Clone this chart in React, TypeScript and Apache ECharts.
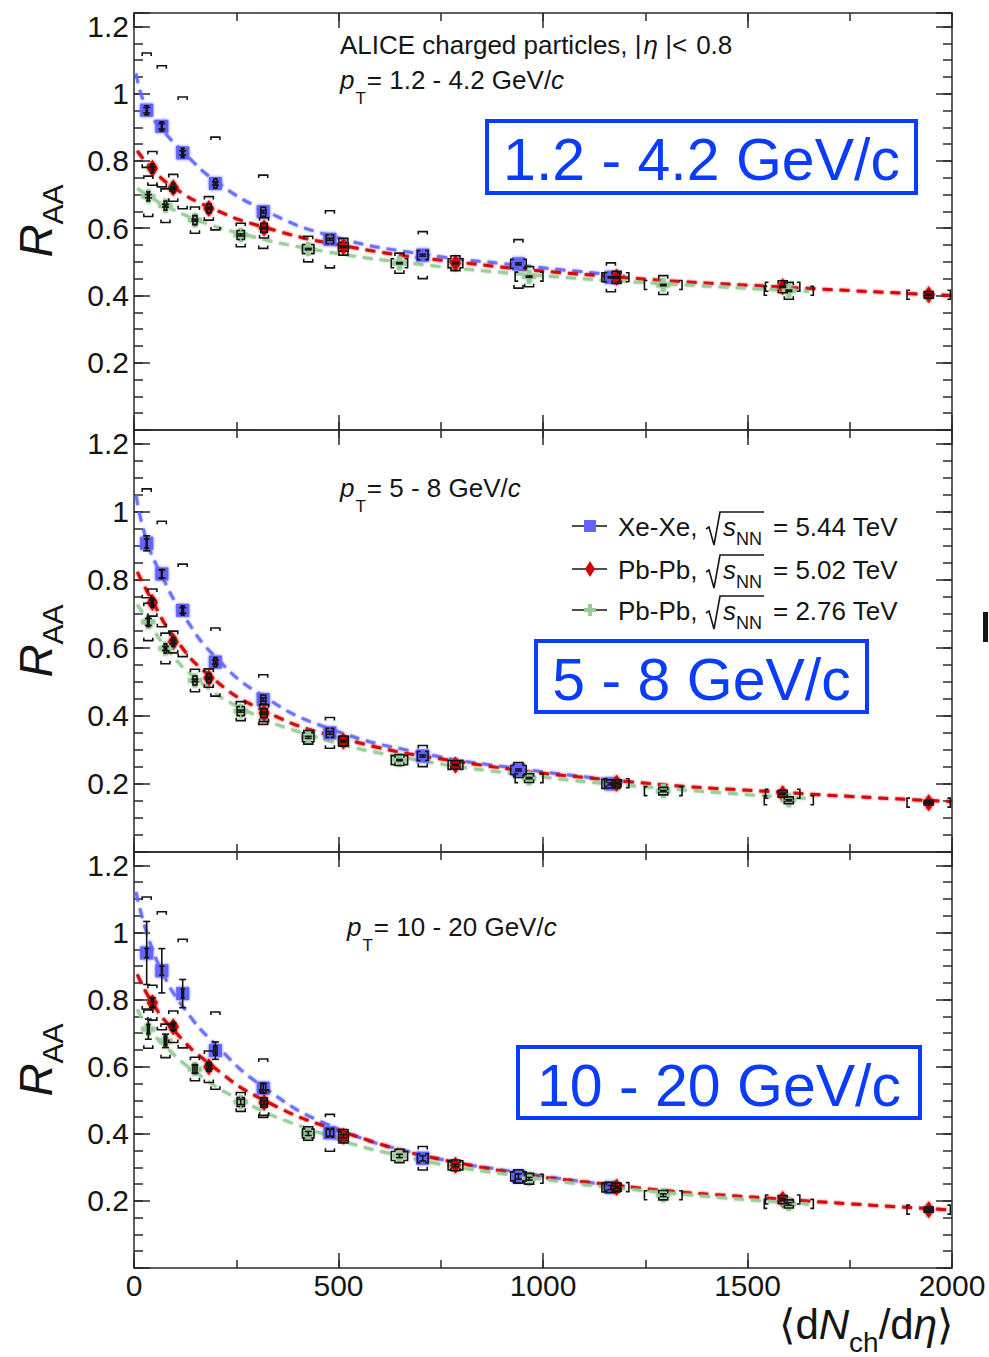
import React, { useEffect, useRef } from 'react';
import * as echarts from 'echarts';

const FONT = '"Liberation Sans", Arial, Helvetica, sans-serif';

// Mean charged-particle multiplicity <dNch/deta> per centrality class
const XE_X = [31, 68, 119, 199, 316, 479, 706, 940, 1166];
const PB5_X = [45, 96, 183, 318, 512, 786, 1180, 1586, 1943];
const PB2_X = [35, 77, 149, 261, 426, 649, 966, 1294, 1601];
// Systematic uncertainty on <dNch/deta> (half-width)
const XE_XSYS = [1, 1, 2, 4, 6, 9, 13, 19, 22];
const PB5_XSYS = [2, 3, 5, 8, 12, 18, 30, 42, 53];
const PB2_XSYS = [2, 3, 5, 9, 14, 20, 34, 46, 60];

// pT = 1.2 - 4.2 GeV/c
const XE_R1 = [0.951, 0.903, 0.824, 0.733, 0.649, 0.567, 0.52, 0.494, 0.454];
const XE_SYS1 = [0.17, 0.18, 0.166, 0.138, 0.109, 0.085, 0.07, 0.072, 0.043];
const XE_STAT1 = [0.008, 0.008, 0.006, 0.005, 0.004, 0.003, 0.003, 0.003, 0.002];
const PB5_R1 = [0.778, 0.72, 0.659, 0.601, 0.545, 0.496, 0.454, 0.426, 0.402];
const PB5_SYS1 = [0.05, 0.04, 0.035, 0.03, 0.025, 0.022, 0.018, 0.018, 0.01];
const PB5_STAT1 = [0.004, 0.003, 0.003, 0.002, 0.002, 0.002, 0.002, 0.002, 0.002];
const PB2_R1 = [0.695, 0.667, 0.624, 0.58, 0.538, 0.496, 0.456, 0.431, 0.414];
const PB2_SYS1 = [0.06, 0.05, 0.039, 0.035, 0.038, 0.03, 0.03, 0.028, 0.025];
const PB2_STAT1 = [0.005, 0.004, 0.003, 0.003, 0.002, 0.002, 0.002, 0.002, 0.002];

// pT = 5 - 8 GeV/c
const XE_R2 = [0.907, 0.817, 0.71, 0.558, 0.448, 0.35, 0.282, 0.241, 0.2];
const XE_SYS2 = [0.16, 0.155, 0.136, 0.1, 0.073, 0.045, 0.031, 0.022, 0.012];
const XE_STAT2 = [0.022, 0.012, 0.008, 0.006, 0.005, 0.004, 0.003, 0.003, 0.003];
const PB5_R2 = [0.733, 0.617, 0.511, 0.408, 0.326, 0.256, 0.202, 0.171, 0.145];
const PB5_SYS2 = [0.04, 0.032, 0.027, 0.025, 0.015, 0.012, 0.01, 0.01, 0.007];
const PB5_STAT2 = [0.008, 0.005, 0.004, 0.003, 0.003, 0.002, 0.002, 0.002, 0.002];
const PB2_R2 = [0.676, 0.598, 0.504, 0.414, 0.337, 0.27, 0.217, 0.179, 0.152];
const PB2_SYS2 = [0.055, 0.045, 0.033, 0.028, 0.02, 0.016, 0.013, 0.011, 0.01];
const PB2_STAT2 = [0.01, 0.006, 0.004, 0.003, 0.003, 0.002, 0.002, 0.002, 0.002];

// pT = 10 - 20 GeV/c
const XE_R3 = [0.939, 0.886, 0.818, 0.648, 0.536, 0.403, 0.327, 0.273, 0.24];
const XE_SYS3 = [0.167, 0.176, 0.162, 0.115, 0.087, 0.055, 0.035, 0.02, 0.015];
const XE_STAT3 = [0.094, 0.066, 0.042, 0.026, 0.015, 0.01, 0.008, 0.008, 0.006];
const PB5_R3 = [0.791, 0.719, 0.6, 0.493, 0.393, 0.306, 0.241, 0.204, 0.174];
const PB5_SYS3 = [0.052, 0.047, 0.047, 0.038, 0.02, 0.016, 0.012, 0.012, 0.008];
const PB5_STAT3 = [0.015, 0.01, 0.008, 0.006, 0.005, 0.004, 0.003, 0.003, 0.003];
const PB2_R3 = [0.712, 0.677, 0.593, 0.495, 0.401, 0.334, 0.266, 0.217, 0.191];
const PB2_SYS3 = [0.057, 0.05, 0.035, 0.028, 0.02, 0.02, 0.016, 0.014, 0.012];
const PB2_STAT3 = [0.03, 0.02, 0.012, 0.008, 0.006, 0.005, 0.004, 0.004, 0.004];

// Dashed fit curves, sampled along <dNch/deta>
const XE_FIT_X = [5, 31, 68, 119, 200, 316, 479, 706, 940, 1200];
const PB5_FIT_X = [8, 45, 96, 183, 318, 512, 786, 1180, 1586, 2000];
const PB2_FIT_X = [8, 35, 77, 149, 261, 426, 649, 966, 1294, 1650];
const XE_FIT1 = [1.06, 0.955, 0.895, 0.828, 0.74, 0.655, 0.578, 0.523, 0.49, 0.458];
const PB5_FIT1 = [0.83, 0.775, 0.722, 0.663, 0.603, 0.548, 0.5, 0.455, 0.425, 0.4];
const PB2_FIT1 = [0.718, 0.697, 0.667, 0.627, 0.584, 0.54, 0.5, 0.462, 0.435, 0.412];
const XE_FIT2 = [1.048, 0.915, 0.812, 0.7, 0.572, 0.458, 0.362, 0.29, 0.245, 0.208];
const PB5_FIT2 = [0.823, 0.737, 0.635, 0.52, 0.415, 0.333, 0.267, 0.21, 0.175, 0.148];
const PB2_FIT2 = [0.727, 0.677, 0.603, 0.512, 0.423, 0.345, 0.28, 0.225, 0.187, 0.157];
const XE_FIT3 = [1.121, 1.0, 0.885, 0.78, 0.665, 0.54, 0.425, 0.337, 0.285, 0.242];
const PB5_FIT3 = [0.875, 0.79, 0.71, 0.61, 0.5, 0.405, 0.315, 0.246, 0.205, 0.173];
const PB2_FIT3 = [0.771, 0.715, 0.66, 0.585, 0.5, 0.415, 0.335, 0.27, 0.225, 0.19];

// Texts
const PT_RANGES = ['1.2 - 4.2', '5 - 8', '10 - 20'];
const BOX_LABELS = ['1.2 - 4.2 GeV/c', '5 - 8 GeV/c', '10 - 20 GeV/c'];
const LEGEND_SYSTEMS = ['Xe-Xe,', 'Pb-Pb,', 'Pb-Pb,'];
const LEGEND_ENERGIES = ['= 5.44 TeV', '= 5.02 TeV', '= 2.76 TeV'];
const X_TICKS_MAJOR = 500;
const X_TICKS_MINOR = 250;
const Y_TICKS_MAJOR = 0.2;
const Y_TICKS_MINOR = 0.05;

const AX = '#2a2a2a';
const BOX_BLUE = '#0a3cff';
const CROSS = 'path://M4,0H8V4H12V8H8V12H4V8H0V4H4Z';

const SYSTEMS = [
  { x: XE_X, xsys: XE_XSYS, fitX: XE_FIT_X, color: '#6464ff', line: 'rgba(96,104,255,0.85)', symbol: 'rect', size: 13 as any },
  { x: PB5_X, xsys: PB5_XSYS, fitX: PB5_FIT_X, color: '#d20000', line: 'rgba(212,0,0,0.9)', symbol: 'diamond', size: [11, 17] as any },
  { x: PB2_X, xsys: PB2_XSYS, fitX: PB2_FIT_X, color: '#98cc98', line: 'rgba(150,204,150,0.9)', symbol: CROSS, size: 14 as any },
];

const PANELS = [
  { r: [XE_R1, PB5_R1, PB2_R1], sys: [XE_SYS1, PB5_SYS1, PB2_SYS1], stat: [XE_STAT1, PB5_STAT1, PB2_STAT1], fit: [XE_FIT1, PB5_FIT1, PB2_FIT1] },
  { r: [XE_R2, PB5_R2, PB2_R2], sys: [XE_SYS2, PB5_SYS2, PB2_SYS2], stat: [XE_STAT2, PB5_STAT2, PB2_STAT2], fit: [XE_FIT2, PB5_FIT2, PB2_FIT2] },
  { r: [XE_R3, PB5_R3, PB2_R3], sys: [XE_SYS3, PB5_SYS3, PB2_SYS3], stat: [XE_STAT3, PB5_STAT3, PB2_STAT3], fit: [XE_FIT3, PB5_FIT3, PB2_FIT3] },
];

const GRIDS = [
  { left: 134, right: 37, top: 13, height: 417 },
  { left: 134, right: 37, top: 430, height: 422 },
  { left: 134, right: 37, top: 852, height: 416 },
];

type Frag = { t: string; size: number; it?: boolean; dy?: number; dx?: number };

const measureCtx = document.createElement('canvas').getContext('2d') as CanvasRenderingContext2D;
const fontOf = (f: Frag) => `${f.it ? 'italic ' : ''}${f.size}px ${FONT}`;
const widthOf = (f: Frag) => {
  measureCtx.font = fontOf(f);
  return measureCtx.measureText(f.t).width;
};

// Lays text fragments out on a common baseline (sub/superscripts via dy)
function textRun(x0: number, base: number, frags: Frag[], fill = '#151515') {
  const els: any[] = [];
  let x = x0;
  for (const f of frags) {
    x += f.dx ?? 0;
    els.push({
      type: 'text',
      x,
      y: base + (f.dy ?? 0) - 0.31 * f.size,
      silent: true,
      style: {
        text: f.t,
        fontSize: f.size,
        fontFamily: FONT,
        fontStyle: f.it ? 'italic' : 'normal',
        fill,
        align: 'left',
        verticalAlign: 'middle',
      },
    });
    x += widthOf(f);
  }
  return { els, end: x };
}
const runWidth = (frags: Frag[]) => frags.reduce((s, f) => s + (f.dx ?? 0) + widthOf(f), 0);

// Systematic uncertainties as bracket ends, statistical ones as capped bars
function renderErrors(_params: any, api: any) {
  const x = api.value(0);
  const y = api.value(1);
  const sy = api.value(2);
  const sx = api.value(3);
  const st = api.value(4);
  const [cx, cy] = api.coord([x, y]);
  const yt = api.coord([x, y + sy])[1];
  const yb = api.coord([x, y - sy])[1];
  const xl = api.coord([x - sx, y])[0];
  const xr = api.coord([x + sx, y])[0];
  const s1 = api.coord([x, y + st])[1];
  const s2 = api.coord([x, y - st])[1];
  const w = 4.5;
  const leg = 3;
  const h = 4.5;
  const cap = 3.5;
  const style = { stroke: '#141414', lineWidth: 1.6, fill: 'none' };
  const pl = (pts: number[][]) => ({ type: 'polyline', shape: { points: pts }, style });
  const ln = (x1: number, y1: number, x2: number, y2: number) => ({ type: 'line', shape: { x1, y1, x2, y2 }, style });
  return {
    type: 'group',
    children: [
      pl([[cx - w, yt + leg], [cx - w, yt], [cx + w, yt], [cx + w, yt + leg]]),
      pl([[cx - w, yb - leg], [cx - w, yb], [cx + w, yb], [cx + w, yb - leg]]),
      pl([[xl + leg, cy - h], [xl, cy - h], [xl, cy + h], [xl + leg, cy + h]]),
      pl([[xr - leg, cy - h], [xr, cy - h], [xr, cy + h], [xr - leg, cy + h]]),
      ln(cx, s1, cx, s2),
      ln(cx - cap, s1, cx + cap, s1),
      ln(cx - cap, s2, cx + cap, s2),
    ],
  };
}

function buildOption() {
  const xAxis: any[] = [];
  const yAxis: any[] = [];
  const series: any[] = [];
  const lineStyle = { color: AX, width: 1.5 };

  PANELS.forEach((panel, p) => {
    const xb = { gridIndex: p, type: 'value', min: 0, max: 2000, splitLine: { show: false } };
    xAxis.push(
      {
        ...xb, position: 'bottom', interval: X_TICKS_MAJOR,
        axisLine: { show: true, onZero: false, lineStyle },
        axisTick: { inside: true, length: 15, lineStyle },
        axisLabel: { show: p === 2, formatter: (v: number) => String(v), fontSize: 30, fontFamily: FONT, color: '#151515', margin: 2 },
      },
      {
        ...xb, position: 'bottom', interval: X_TICKS_MINOR,
        axisLine: { show: false, onZero: false },
        axisTick: { inside: true, length: 8, lineStyle },
        axisLabel: { show: false },
      },
      {
        ...xb, position: 'top', interval: X_TICKS_MAJOR,
        axisLine: { show: true, onZero: false, lineStyle },
        axisTick: { inside: true, length: 15, lineStyle },
        axisLabel: { show: false },
      },
      {
        ...xb, position: 'top', interval: X_TICKS_MINOR,
        axisLine: { show: false, onZero: false },
        axisTick: { inside: true, length: 8, lineStyle },
        axisLabel: { show: false },
      },
    );
    const yb = { gridIndex: p, type: 'value', min: 0, max: 1.24, splitLine: { show: false } };
    const fmt = (v: number) => {
      const k = v / Y_TICKS_MAJOR;
      if (v < 0.1 || v > 1.21 || Math.abs(k - Math.round(k)) > 1e-6) return '';
      return String(Math.round(v * 10) / 10);
    };
    yAxis.push(
      {
        ...yb, position: 'left', interval: Y_TICKS_MAJOR,
        axisLine: { show: true, onZero: false, lineStyle },
        axisTick: { inside: true, length: 16, lineStyle },
        axisLabel: { show: true, formatter: fmt, fontSize: 30, fontFamily: FONT, color: '#151515', margin: 5 },
      },
      {
        ...yb, position: 'left', interval: Y_TICKS_MINOR,
        axisLine: { show: false, onZero: false },
        axisTick: { inside: true, length: 9, lineStyle },
        axisLabel: { show: false },
      },
      {
        ...yb, position: 'right', interval: Y_TICKS_MAJOR,
        axisLine: { show: true, onZero: false, lineStyle },
        axisTick: { inside: true, length: 16, lineStyle },
        axisLabel: { show: false },
      },
      {
        ...yb, position: 'right', interval: Y_TICKS_MINOR,
        axisLine: { show: false, onZero: false },
        axisTick: { inside: true, length: 9, lineStyle },
        axisLabel: { show: false },
      },
    );

    SYSTEMS.forEach((sysDef, s) => {
      const ax = { xAxisIndex: 4 * p, yAxisIndex: 4 * p };
      series.push({
        type: 'line',
        ...ax,
        data: sysDef.fitX.map((x, i) => [x, panel.fit[s][i]]),
        smooth: 0.5,
        showSymbol: false,
        symbol: 'none',
        silent: true,
        lineStyle: { color: sysDef.line, width: 3, type: [10, 7], shadowBlur: 2, shadowColor: sysDef.line },
        z: 2,
      });
      series.push({
        type: 'scatter',
        ...ax,
        data: sysDef.x.map((x, i) => [x, panel.r[s][i]]),
        symbol: sysDef.symbol,
        symbolSize: sysDef.size,
        silent: true,
        itemStyle: { color: sysDef.color, opacity: 1, shadowBlur: 3, shadowColor: sysDef.color },
        z: 3,
      });
      series.push({
        type: 'custom',
        ...ax,
        data: sysDef.x.map((x, i) => [x, panel.r[s][i], panel.sys[s][i], sysDef.xsys[i], panel.stat[s][i]]),
        encode: { x: 0, y: 1 },
        renderItem: renderErrors,
        silent: true,
        z: 4,
      });
    });
  });

  // Annotations
  const g: any[] = [];
  const T = 26;
  g.push(...textRun(340, 53, [
    { t: 'ALICE charged particles, |', size: T },
    { t: 'η', size: T, it: true, dx: 2 },
    { t: ' |<', size: T },
    { t: '0.8', size: T, dx: 9 },
  ]).els);
  const ptPos = [[340, 88], [340, 496], [347, 935]];
  PT_RANGES.forEach((r, i) => {
    g.push(...textRun(ptPos[i][0], ptPos[i][1], [
      { t: 'p', size: T, it: true },
      { t: 'T', size: 17, dy: 16, dx: 1 },
      { t: `= ${r} GeV/`, size: T, dx: 1 },
      { t: 'c', size: T, it: true },
    ]).els);
  });

  // Highlighted pT-range boxes
  const boxes = [
    { x: 487, y: 121, w: 429, h: 72 },
    { x: 536, y: 641, w: 331, h: 71 },
    { x: 518, y: 1047, w: 402, h: 71 },
  ];
  boxes.forEach((b, i) => {
    g.push({ type: 'rect', silent: true, shape: { x: b.x, y: b.y, width: b.w, height: b.h }, style: { fill: '#fff', stroke: BOX_BLUE, lineWidth: 4 }, z: 10 });
    g.push({
      type: 'text', silent: true, x: b.x + b.w / 2, y: b.y + b.h / 2 + 3, z: 11,
      style: { text: BOX_LABELS[i], fontSize: 59, fontFamily: FONT, fill: BOX_BLUE, align: 'center', verticalAlign: 'middle' },
    });
  });

  // Legend
  const bases = [535, 578, 619];
  bases.forEach((b, i) => {
    const c = b - 9;
    g.push({ type: 'line', silent: true, shape: { x1: 572, y1: c, x2: 607, y2: c }, style: { stroke: '#151515', lineWidth: 1.6 } });
    if (i === 0) {
      g.push({ type: 'rect', silent: true, shape: { x: 584, y: c - 6, width: 12, height: 12 }, style: { fill: SYSTEMS[0].color } });
    } else if (i === 1) {
      g.push({ type: 'polygon', silent: true, shape: { points: [[590, c - 8], [595, c], [590, c + 8], [585, c]] }, style: { fill: SYSTEMS[1].color } });
    } else {
      g.push({
        type: 'polygon', silent: true,
        shape: { points: [[588, c - 6], [592, c - 6], [592, c - 2], [596, c - 2], [596, c + 2], [592, c + 2], [592, c + 6], [588, c + 6], [588, c + 2], [584, c + 2], [584, c - 2], [588, c - 2]] },
        style: { fill: SYSTEMS[2].color },
      });
    }
    g.push(...textRun(618, b, [{ t: LEGEND_SYSTEMS[i], size: T }]).els);
    const sq = textRun(723, b, [
      { t: 's', size: T, it: true },
      { t: 'NN', size: 18, dy: 10 },
    ]);
    g.push(...sq.els);
    g.push({
      type: 'polyline', silent: true,
      shape: { points: [[706, b - 6], [709, b - 8], [714, b + 10], [720, b - 23], [sq.end + 2, b - 23]] },
      style: { stroke: '#151515', lineWidth: 1.6, fill: 'none' },
    });
    g.push(...textRun(773, b, [{ t: LEGEND_ENERGIES[i], size: T }]).els);
  });

  // Axis titles
  const xt: Frag[] = [
    { t: '⟨d', size: 42 },
    { t: 'N', size: 42, it: true },
    { t: 'ch', size: 28, dy: 13 },
    { t: '/d', size: 42 },
    { t: 'η', size: 42, it: true },
    { t: '⟩', size: 42 },
  ];
  g.push(...textRun(953 - runWidth(xt), 1338, xt).els);

  const centers = [221, 641, 1060];
  centers.forEach((cy) => {
    const yt: Frag[] = [
      { t: 'R', size: 46, it: true },
      { t: 'AA', size: 30, dy: 12 },
    ];
    const w = runWidth(yt);
    g.push({
      type: 'group', x: 50, y: cy + w / 2, rotation: Math.PI / 2, silent: true,
      children: textRun(0, 0, yt).els,
    });
  });

  // Clipped glyph at the right edge
  g.push({ type: 'rect', silent: true, shape: { x: 983, y: 612, width: 5, height: 30 }, style: { fill: '#151515' } });

  return {
    animation: false,
    backgroundColor: '#ffffff',
    grid: GRIDS,
    xAxis,
    yAxis,
    series,
    graphic: { elements: g },
  };
}

export default function App() {
  const ref = useRef<HTMLDivElement>(null);
  useEffect(() => {
    const chart = echarts.init(ref.current as HTMLDivElement, null, { renderer: 'svg' });
    chart.setOption(buildOption() as any);
    return () => chart.dispose();
  }, []);
  return <div ref={ref} style={{ position: 'absolute', left: 0, top: 0, width: 989, height: 1357 }} />;
}
